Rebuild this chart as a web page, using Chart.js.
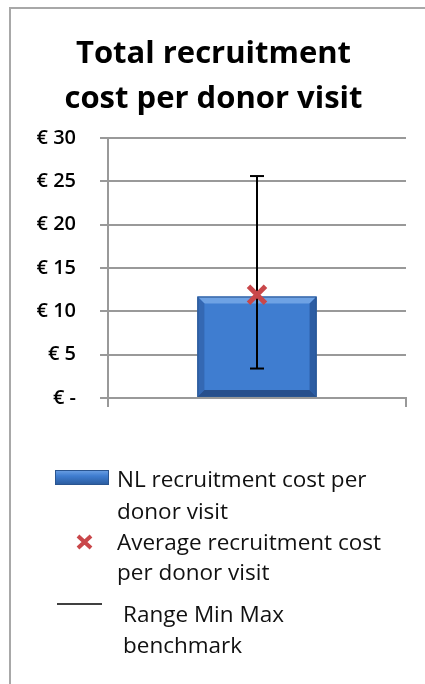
<!DOCTYPE html>
<html lang="en">
<head>
    <meta charset="UTF-8">
    <title>Total recruitment cost per donor visit</title>
    <script src="https://cdn.jsdelivr.net/npm/chart.js"></script>
    <style>
        html, body {
            margin: 0;
            padding: 0;
            background: #ffffff;
        }
        #marco {
            position: absolute;
            left: 9px;
            top: 7px;
            width: 414px;
            height: 675px;
            border-left: 2px solid #a8a8a8;
            border-top: 2px solid #a8a8a8;
        }
    </style>
</head>
<body>
    <div id="marco">
        <canvas id="grafica" width="414" height="675"></canvas>
    </div>

    <script>
        // datos
        const categorias = ['NL'];
        const costeNL = [11.7];
        const costeMedio = [11.9];
        const rangoMin = [3.4];
        const rangoMax = [25.6];
        const ticksY = [0, 5, 10, 15, 20, 25, 30];

        const titulo = ['Total recruitment', 'cost per donor visit'];
        const leyenda = [
            ['NL recruitment cost per', 'donor visit'],
            ['Average recruitment cost', 'per donor visit'],
            ['Range Min Max', 'benchmark']
        ];

        const azul = '#3f7dd0';
        const rojo = '#c9474a';
        const gris = '#999999';
        const fuente = '"Open Sans", Lato, sans-serif';

        // relieve de la barra (estilo Excel)
        const biselBarra = {
            id: 'biselBarra',
            afterDatasetDraw(chart, args) {
                if (chart.config.data.datasets[args.index].type !== 'bar') return;
                const ctx = chart.ctx;
                args.meta.data.forEach(el => {
                    const L = el.x - el.width / 2, R = el.x + el.width / 2;
                    const T = el.y, B = el.base;
                    const b = 7;
                    ctx.save();
                    const poly = (pts, color) => {
                        ctx.beginPath();
                        ctx.moveTo(pts[0][0], pts[0][1]);
                        pts.slice(1).forEach(p => ctx.lineTo(p[0], p[1]));
                        ctx.closePath();
                        ctx.fillStyle = color;
                        ctx.fill();
                    };
                    poly([[L, T], [R, T], [R - b, T + b], [L + b, T + b]], '#6ea2e4');
                    poly([[L, T], [L + b, T + b], [L + b, B - b], [L, B]], '#3468b3');
                    poly([[R, T], [R, B], [R - b, B - b], [R - b, T + b]], '#2c5da3');
                    poly([[L, B], [R, B], [R - b, B - b], [L + b, B - b]], '#274f8c');
                    ctx.strokeStyle = '#2a5590';
                    ctx.lineWidth = 1;
                    ctx.strokeRect(L + 0.5, T + 0.5, R - L - 1, B - T - 1);
                    ctx.restore();
                });
            }
        };

        // leyenda dibujada a mano (textos en dos lineas)
        const leyendaPropia = {
            id: 'leyendaPropia',
            afterDraw(chart) {
                const ctx = chart.ctx;
                ctx.save();
                ctx.font = '22.5px ' + fuente;
                ctx.fillStyle = '#111111';
                ctx.textBaseline = 'alphabetic';
                ctx.textAlign = 'left';

                // barra
                const g = ctx.createLinearGradient(0, 461, 0, 476);
                g.addColorStop(0, '#6ea2e4');
                g.addColorStop(0.4, '#3f7dd0');
                g.addColorStop(1, '#2a5a9c');
                ctx.fillStyle = g;
                ctx.fillRect(44, 461, 54, 15);
                ctx.strokeStyle = '#2a5590';
                ctx.lineWidth = 1;
                ctx.strokeRect(44.5, 461.5, 53, 14);
                ctx.fillStyle = '#111111';
                ctx.fillText(leyenda[0][0], 106, 478);
                ctx.fillText(leyenda[0][1], 106, 510);

                // cruz
                ctx.strokeStyle = rojo;
                ctx.lineWidth = 4;
                ctx.beginPath();
                ctx.moveTo(67, 527); ctx.lineTo(80, 539);
                ctx.moveTo(80, 527); ctx.lineTo(67, 539);
                ctx.stroke();
                ctx.fillText(leyenda[1][0], 106, 541);
                ctx.fillText(leyenda[1][1], 106, 571);

                // linea
                ctx.strokeStyle = '#000000';
                ctx.lineWidth = 1.5;
                ctx.beginPath();
                ctx.moveTo(46, 595); ctx.lineTo(91, 595);
                ctx.stroke();
                ctx.fillText(leyenda[2][0], 112, 613);
                ctx.fillText(leyenda[2][1], 112, 644);
                ctx.restore();
            }
        };

        const ctx = document.getElementById('grafica').getContext('2d');
        const miGrafica = new Chart(ctx, {
            type: 'bar',
            data: {
                labels: categorias,
                datasets: [
                    {
                        type: 'line',
                        label: leyenda[1].join(' '),
                        data: categorias.map((c, i) => ({ x: c, y: costeMedio[i] })),
                        showLine: false,
                        pointStyle: 'crossRot',
                        pointRadius: 12,
                        pointBorderWidth: 5,
                        pointBorderColor: rojo,
                        pointBackgroundColor: rojo,
                        order: 1
                    },
                    {
                        type: 'line',
                        label: leyenda[2].join(' '),
                        data: categorias.flatMap((c, i) => [
                            { x: c, y: rangoMin[i] },
                            { x: c, y: rangoMax[i] }
                        ]),
                        borderColor: '#000000',
                        borderWidth: 2,
                        pointStyle: 'line',
                        pointRadius: 7,
                        pointBorderWidth: 2,
                        pointBorderColor: '#000000',
                        order: 2
                    },
                    {
                        type: 'bar',
                        label: leyenda[0].join(' '),
                        data: costeNL,
                        backgroundColor: azul,
                        borderWidth: 0,
                        barPercentage: 0.4,
                        categoryPercentage: 1,
                        order: 3
                    }
                ]
            },
            options: {
                responsive: false,
                animation: false,
                layout: {
                    padding: { left: 10, right: 19, top: 0, bottom: 277 }
                },
                scales: {
                    x: {
                        grid: {
                            display: true,
                            drawOnChartArea: false,
                            tickLength: 9,
                            lineWidth: 2,
                            color: gris
                        },
                        border: { color: gris, width: 2 },
                        ticks: { display: false },
                        afterFit(s) { s.height = 9; }
                    },
                    y: {
                        min: 0,
                        max: 30,
                        afterBuildTicks(s) {
                            s.ticks = ticksY.map(v => ({ value: v }));
                        },
                        grid: {
                            color: gris,
                            lineWidth: 2,
                            tickLength: 8
                        },
                        border: { color: gris, width: 2 },
                        ticks: {
                            color: '#000000',
                            padding: 24,
                            font: { family: fuente, size: 20, weight: '600' },
                            callback: v => v === 0 ? '€ -' : '€ ' + v
                        },
                        afterFit(s) { s.width = 87; }
                    }
                },
                plugins: {
                    legend: { display: false },
                    tooltip: { enabled: false },
                    title: {
                        display: true,
                        text: titulo,
                        color: '#000000',
                        font: { family: fuente, size: 31, weight: 'bold', lineHeight: 1.45 },
                        padding: { top: 23, bottom: 16 }
                    }
                }
            },
            plugins: [biselBarra, leyendaPropia]
        });
    </script>
</body>
</html>
